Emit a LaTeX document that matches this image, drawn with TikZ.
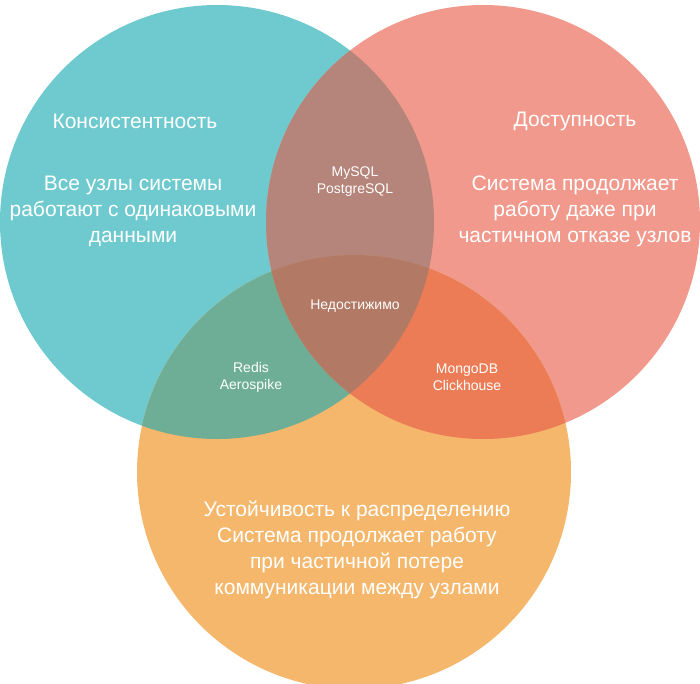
\documentclass[tikz,border=0pt]{standalone}
\usepackage{fontspec}
\setmainfont{Liberation Sans}

\definecolor{tealc}{HTML}{6FCACF}
\definecolor{salmonc}{HTML}{F0998C}
\definecolor{orangec}{HTML}{F4B76C}
\definecolor{tsc}{HTML}{B5847A}
\definecolor{toc}{HTML}{6EAE96}
\definecolor{soc}{HTML}{EC7C55}
\definecolor{allc}{HTML}{B27A64}

\tikzset{
  bigtext/.style={text=white, align=center, font=\fontsize{21}{26}\selectfont},
  smalltext/.style={text=white, align=center, font=\fontsize{14}{17}\selectfont}
}

\begin{document}
\begin{tikzpicture}[x=1pt, y=-1pt]
\useasboundingbox (0,0) rectangle (700,683);
\def\rad{217}

% Circle centres
\coordinate (cons) at (217,222);
\coordinate (avail) at (483,222);
\coordinate (part) at (354,472);

% Circles
\fill[tealc] (cons) circle (\rad);
\fill[salmonc] (avail) circle (\rad);
\fill[orangec] (part) circle (\rad);

% Overlaps
\begin{scope}
\clip (cons) circle (\rad);
\fill[tsc] (avail) circle (\rad);
\fill[toc] (part) circle (\rad);
\end{scope}
\begin{scope}
\clip (avail) circle (\rad);
\fill[soc] (part) circle (\rad);
\end{scope}
\begin{scope}
\clip (cons) circle (\rad);
\clip (avail) circle (\rad);
\fill[allc] (part) circle (\rad);
\end{scope}

% Titles and descriptions
\node[bigtext] (constitle) at (135,121) {Консистентность};
\node[bigtext] (consdesc) at (133,211) {Все узлы системы\\работают с одинаковыми\\данными};
\node[bigtext] (availtitle) at (575,121) {Доступность};
\node[bigtext] (availdesc) at (575,211) {Система продолжает\\работу даже при\\частичном отказе узлов};
\node[bigtext] (partdesc) at (357,550) {Устойчивость к распределению\\Система продолжает работу\\при частичной потере\\коммуникации между узлами};

% Overlap labels
\node[smalltext] (cadb) at (355,182) {MySQL\\PostgreSQL};
\node[smalltext] (none) at (355,306) {Недостижимо};
\node[smalltext] (cpdb) at (251,377) {Redis\\Aerospike};
\node[smalltext] (apdb) at (467,377) {MongoDB\\Clickhouse};

\end{tikzpicture}
\end{document}
